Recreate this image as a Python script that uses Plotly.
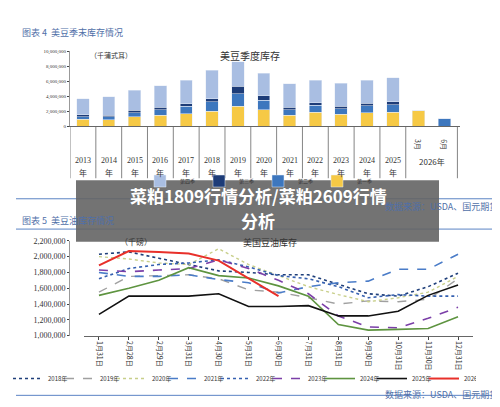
import plotly.graph_objects as go

H, W = 407, 500
def py(p):
    return 1 - p / H
def px(p):
    return p / W

# ---- top chart data: soybean quarterly stocks (segments, thousand bushels) ----
bar_cats = ['2013', '2014', '2015', '2016', '2017', '2018', '2019', '2020', '2021',
            '2022', '2023', '2024', '2025', '3月', '6月']
q1 = [940, 900, 1300, 1450, 1700, 2000, 2650, 2200, 1500, 1850, 1600, 1800, 1850, 2100, 0]
q2 = [360, 400, 500, 750, 950, 1250, 1700, 1300, 700, 950, 750, 950, 1050, 0, 1000]
q3 = [250, 150, 350, 350, 350, 450, 1000, 600, 350, 350, 350, 350, 350, 0, 0]
q4 = [2100, 2500, 2650, 2850, 3100, 3750, 3250, 2950, 3100, 2950, 3000, 3050, 3200, 0, 0]
q1 = [v * 1000 for v in q1]; q2 = [v * 1000 for v in q2]
q3 = [v * 1000 for v in q3]; q4 = [v * 1000 for v in q4]
q_names = ['第一季', '第二季', '第三季', '第四季']
q_colors = ['#F6C945', '#3D77BE', '#1D3C78', '#A9BEE2']

# ---- bottom chart data: US soybean oil stocks (thousand lb) ----
line_cats = ['1月31日', '2月28日', '2月29日', '3月31日', '4月30日', '5月31日', '6月30日',
             '7月31日', '8月31日', '9月30日', '10月31日', '11月30日', '12月31日']
oil = {
    '2018年': [2.03, 2.06, 1.98, 1.90, 1.82, 1.80, 1.77, 1.77, 1.65, 1.53, 1.50, 1.62, 1.79],
    '2019年': [1.55, 1.75, 1.76, 1.77, 1.72, 1.58, 1.55, 1.48, 1.40, 1.44, 1.43, 1.46, 1.72],
    '2020年': [2.00, 1.97, 1.92, 1.90, 2.10, 1.90, 1.76, 1.62, 1.52, 1.43, 1.48, 1.55, 1.75],
    '2021年': [1.80, 1.75, 1.75, 1.77, 1.71, 1.67, 1.54, 1.62, 1.67, 1.69, 1.84, 1.84, 2.03],
    '2022年': [1.72, 1.85, 1.90, 1.92, 1.96, 1.87, 1.76, 1.72, 1.62, 1.48, 1.52, 1.50, 1.50],
    '2023年': [1.83, 1.81, 1.83, 1.85, 1.96, 1.85, 1.70, 1.53, 1.25, 1.11, 1.10, 1.22, 1.36],
    '2024年': [1.51, 1.60, 1.70, 1.86, 1.76, 1.73, 1.63, 1.50, 1.14, 1.07, 1.08, 1.09, 1.24],
    '2025年': [1.27, 1.50, 1.50, 1.50, 1.53, 1.37, 1.37, 1.38, 1.25, 1.25, 1.31, 1.51, 1.64],
    '2026年': [1.89, 2.07, 2.06, 2.04, 1.95, 1.73, 1.50],
}
oil_styles = {
    '2018年': ('#1F3F7A', 'dot', 1.6), '2019年': ('#A0A0A0', 'dash', 1.4),
    '2020年': ('#C8CF8A', 'dot', 1.4), '2021年': ('#4A7CC8', 'dash', 1.6),
    '2022年': ('#3560B0', 'dot', 1.6), '2023年': ('#7B3FA8', 'dash', 1.6),
    '2024年': ('#5E9440', 'solid', 1.6), '2025年': ('#111111', 'solid', 1.6),
    '2026年': ('#E8302A', 'solid', 2.0),
}

serif = 'Liberation Serif'
cjk = 'Noto Sans CJK SC'
fig = go.Figure()

xs = list(range(len(bar_cats)))
for name, vals, col in zip(q_names, [q1, q2, q3, q4], q_colors):
    fig.add_trace(go.Bar(x=xs, y=vals, name=name, marker_color=col, width=0.48,
                         xaxis='x', yaxis='y', legend='legend'))

for yr, vals in oil.items():
    c, d, w = oil_styles[yr]
    fig.add_trace(go.Scatter(x=line_cats[:len(vals)], y=[v * 1e6 for v in vals], name=yr,
                             mode='lines', line=dict(color=c, dash=d, width=w),
                             xaxis='x2', yaxis='y2', legend='legend2'))

ann = []
def txt(x, y, s, size=9, color='#333', font=serif, **kw):
    ann.append(dict(x=x, y=y, xref='paper', yref='paper', text=s, showarrow=False,
                    font=dict(size=size, color=color, family=font), **kw))

# headers and sources
txt(px(12), py(12), '图表 4  美豆季末库存情况', 9, '#4F6FA8', cjk, xanchor='left')
txt(px(12), py(213), '图表 5  美豆油库存情况', 9, '#4F6FA8', cjk, xanchor='left')
txt(px(492), py(199), '数据来源：USDA、国元期货', 9, '#4F6FA8', cjk, xanchor='right')
txt(px(492), py(400), '数据来源：USDA、国元期货', 9, '#4F6FA8', cjk, xanchor='right')
txt(px(80), py(37), '（千蒲式耳）', 7, '#333', cjk)
txt(px(242), py(35), '美豆季度库存', 10, '#333', cjk)
txt(px(110), py(235), '（千磅）', 8, '#333', cjk)
txt(px(262), py(236), '美国豆油库存', 9, '#333', cjk)

# year labels for bar categories
for i, c in enumerate(bar_cats[:13]):
    ann.append(dict(x=i, y=py(152), xref='x', yref='paper', text=c, showarrow=False,
                    font=dict(size=8, family=serif, color='#333')))
    ann.append(dict(x=i, y=py(164), xref='x', yref='paper', text='年', showarrow=False,
                    font=dict(size=8, family=cjk, color='#333')))
for i in (13, 14):
    ann.append(dict(x=i, y=py(128), xref='x', yref='paper', text=bar_cats[i], showarrow=False,
                    textangle=90, font=dict(size=7, family=cjk, color='#333')))
ann.append(dict(x=13.5, y=py(153), xref='x', yref='paper', text='2026年', showarrow=False,
                font=dict(size=8, family=cjk, color='#333')))

# overlay title
txt(0.5, py(188), '<b>菜粕1809行情分析/菜粕2609行情</b>', 17, 'white', cjk)
txt(0.5, py(213), '<b>分析</b>', 17, 'white', cjk)

shapes = []
for b in [i - 0.5 for i in range(14)] + [14.5]:
    top = 140 if b == 13.5 else 170
    shapes.append(dict(type='line', xref='x', yref='paper', x0=b, x1=b, y0=py(117), y1=py(top),
                       line=dict(color='#666', width=0.8)))
for yline in (191, 222, 392):
    shapes.append(dict(type='line', xref='paper', yref='paper', x0=px(8), x1=px(495),
                       y0=py(yline), y1=py(yline), line=dict(color='#5B83C4', width=1)))
shapes.append(dict(type='rect', xref='paper', yref='paper', x0=px(68), x1=px(431),
                   y0=py(235), y1=py(172), fillcolor='rgba(100,100,100,0.9)', line_width=0,
                   layer='above'))

fig.update_layout(
    width=W, height=H, margin=dict(l=0, r=0, t=0, b=0),
    paper_bgcolor='white', plot_bgcolor='white', barmode='stack', bargap=0.5,
    annotations=ann, shapes=shapes,
    xaxis=dict(domain=[px(62), px(452)], range=[-0.5, 14.6], anchor='y', showticklabels=False,
               showline=True, linecolor='#666', ticks=''),
    yaxis=dict(domain=[py(117), py(40)], range=[0, 10e6], tickvals=[0, 2e6, 4e6, 6e6, 8e6, 10e6],
               ticktext=['0', '2,000,000', '4,000,000', '6,000,000', '8,000,000', '10,000,000'],
               tickfont=dict(size=5, family=serif, color='#333'), showgrid=False,
               showline=True, linecolor='#999', ticks='outside', ticklen=2),
    xaxis2=dict(domain=[px(76), px(465)], range=[-0.5, 12.5], anchor='y2', type='category',
                tickangle=90, tickfont=dict(size=7, family=cjk, color='#333'),
                showline=True, linecolor='#666', ticks='outside', ticklen=3),
    yaxis2=dict(domain=[py(331), py(234)], range=[1e6, 2.2e6],
                tickvals=[1e6 + 2e5 * k for k in range(7)], tickformat=',d',
                tickfont=dict(size=8, family=serif, color='#333'), showgrid=False,
                showline=True, linecolor='#999', ticks='outside', ticklen=2),
    legend=dict(orientation='h', x=0.5, xanchor='center', y=py(158), yanchor='top',
                font=dict(size=5, family=cjk, color='#333'), entrywidth=14,
                itemwidth=30, bgcolor='rgba(0,0,0,0)'),
    legend2=dict(orientation='h', x=0.46, xanchor='center', y=py(360), yanchor='top',
                 font=dict(size=6, family=cjk, color='#333'), entrywidth=7,
                 itemwidth=30, bgcolor='rgba(0,0,0,0)'),
)

fig.write_html("out.html")
